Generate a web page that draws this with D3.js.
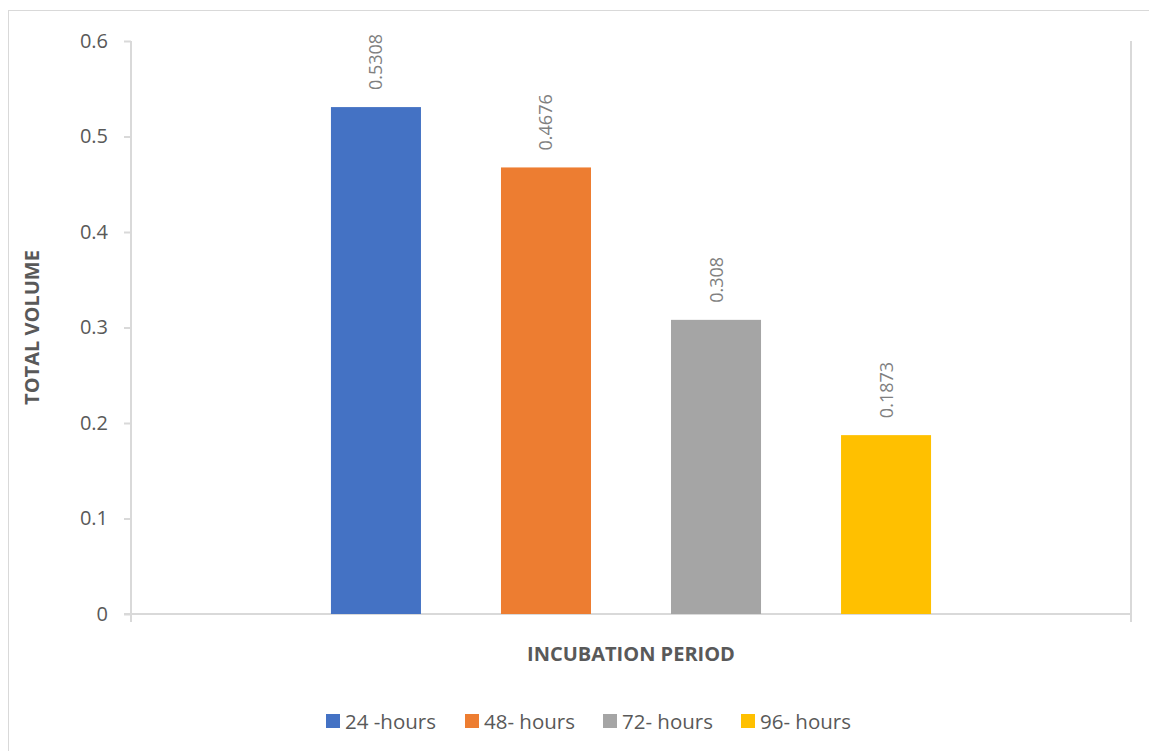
<!DOCTYPE html>
<html>
<head>
<meta charset="utf-8">
<script src="https://cdn.jsdelivr.net/npm/d3@7"></script>
<style>
  html, body { margin: 0; padding: 0; background: #ffffff; }
  svg { display: block; }
  text { font-family: "Open Sans", "Noto Sans", sans-serif; }
</style>
</head>
<body>
<svg id="chart" width="1149" height="751"></svg>
<script>
// Total volume by incubation period
const seriesNames = ["24 -hours", "48- hours", "72- hours", "96- hours"];
const seriesValues = [0.5308, 0.4676, 0.308, 0.1873];
const seriesColors = ["#4472c4", "#ed7d31", "#a5a5a5", "#ffc000"];
const yTicks = [0, 0.1, 0.2, 0.3, 0.4, 0.5, 0.6];

const svg = d3.select("#chart");
const W = 1149, H = 751;
const plot = { left: 131, right: 1131, top: 41, bottom: 614 };
const axisColor = "#d9d9d9";
const textColor = "#595959";

// outer frame
svg.append("rect")
  .attr("x", 8.5).attr("y", 10.5)
  .attr("width", W + 20).attr("height", H + 20)
  .attr("fill", "#ffffff")
  .attr("stroke", axisColor).attr("stroke-width", 1);

const y = d3.scaleLinear().domain([0, 0.6]).range([plot.bottom, plot.top]);
const x = d3.scaleBand()
  .domain(seriesNames)
  .range([plot.left, plot.right])
  .paddingInner(80 / 170)
  .paddingOuter(1.176);

// left value axis
const yAxis = d3.axisLeft(y)
  .tickValues(yTicks)
  .tickFormat(d => d === 0 ? "0" : d3.format(".1f")(d))
  .tickSize(7)
  .tickPadding(16);
const gy = svg.append("g").attr("transform", `translate(${plot.left},0)`).call(yAxis);
gy.select(".domain").attr("stroke", axisColor).attr("stroke-width", 2)
  .attr("d", `M0,${plot.top}V${plot.bottom + 8}`);
gy.selectAll(".tick line").attr("stroke", axisColor).attr("stroke-width", 2);
gy.selectAll(".tick text").attr("fill", textColor).attr("font-size", 20)
  .attr("font-family", "'Open Sans', sans-serif");

// right axis line
svg.append("line")
  .attr("x1", plot.right).attr("x2", plot.right)
  .attr("y1", plot.top).attr("y2", plot.bottom + 8)
  .attr("stroke", axisColor).attr("stroke-width", 2);

// category axis
svg.append("line")
  .attr("x1", plot.left - 7).attr("x2", plot.right)
  .attr("y1", plot.bottom).attr("y2", plot.bottom)
  .attr("stroke", axisColor).attr("stroke-width", 2);

// bars
svg.append("g").selectAll("rect")
  .data(seriesNames)
  .join("rect")
  .attr("x", d => x(d))
  .attr("width", x.bandwidth())
  .attr("y", (d, i) => y(seriesValues[i]))
  .attr("height", (d, i) => y(0) - y(seriesValues[i]))
  .attr("fill", (d, i) => seriesColors[i]);

// value labels
svg.append("g").selectAll("text")
  .data(seriesNames)
  .join("text")
  .attr("transform", (d, i) =>
    `translate(${x(d) + x.bandwidth() / 2 + 6.5},${y(seriesValues[i]) - 17}) rotate(-90)`)
  .attr("text-anchor", "start")
  .attr("fill", "#7f7f7f")
  .attr("font-size", 18)
  .text((d, i) => String(seriesValues[i]));

// axis titles
svg.append("text")
  .attr("transform", `translate(39,${(plot.top + plot.bottom) / 2}) rotate(-90)`)
  .attr("text-anchor", "middle")
  .attr("fill", textColor)
  .attr("font-size", 20)
  .attr("font-weight", "bold")
  .text("TOTAL VOLUME");

svg.append("text")
  .attr("x", (plot.left + plot.right) / 2)
  .attr("y", 661)
  .attr("text-anchor", "middle")
  .attr("fill", textColor)
  .attr("font-size", 20)
  .attr("font-weight", "bold")
  .text("INCUBATION PERIOD");

// legend
const legendX = [326, 465, 603, 741];
const lg = svg.append("g").selectAll("g")
  .data(seriesNames)
  .join("g")
  .attr("transform", (d, i) => `translate(${legendX[i]},714)`);
lg.append("rect").attr("width", 14).attr("height", 14)
  .attr("fill", (d, i) => seriesColors[i]);
lg.append("text").attr("x", 19).attr("y", 15)
  .attr("fill", textColor).attr("font-size", 20.5)
  .text(d => d);
</script>
</body>
</html>
